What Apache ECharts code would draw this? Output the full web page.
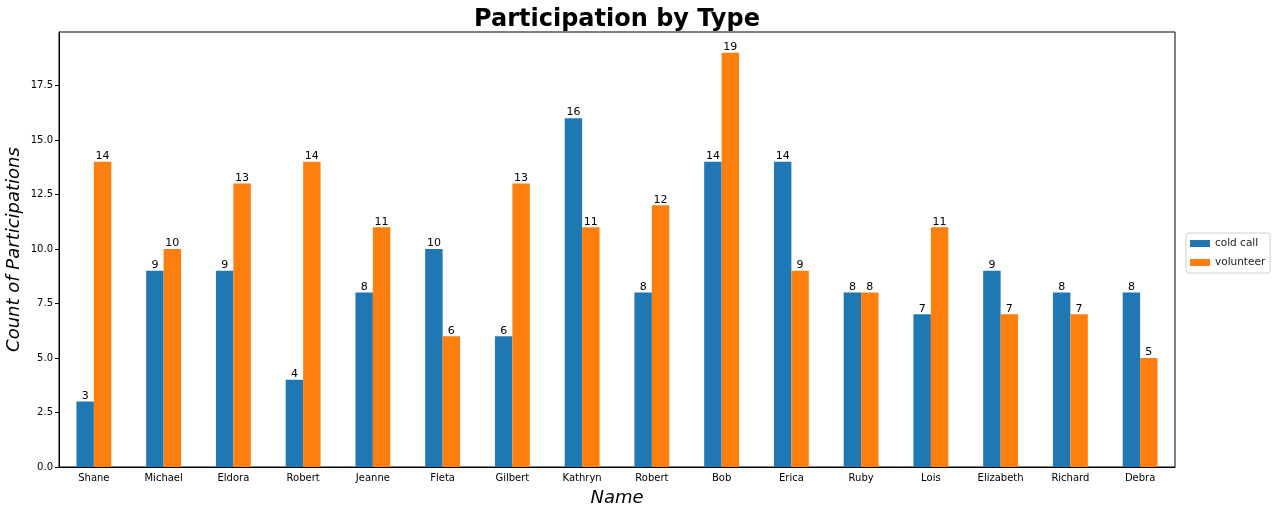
<!DOCTYPE html>
<html>
<head>
<meta charset="utf-8">
<script src="https://cdn.jsdelivr.net/npm/echarts@6/dist/echarts.min.js"></script>
<style>
  html, body { margin: 0; padding: 0; background: #fff; }
  #chart { width: 1276px; height: 513px; }
</style>
</head>
<body>
<div id="chart"></div>
<script>
const names = ["Shane", "Michael", "Eldora", "Robert", "Jeanne", "Fleta", "Gilbert", "Kathryn",
  "Robert", "Bob", "Erica", "Ruby", "Lois", "Elizabeth", "Richard", "Debra"];
const coldCall = [3, 9, 9, 4, 8, 10, 6, 16, 8, 14, 14, 8, 7, 9, 8, 8];
const volunteer = [14, 10, 13, 14, 11, 6, 13, 11, 12, 19, 9, 8, 11, 7, 7, 5];

const FONT = "DejaVu Sans";
const COLORS = { blue: "#1f77b4", orange: "#ff7f0e", text: "#000" };

const chart = echarts.init(document.getElementById("chart"));

function barSeries(name, data, color) {
  return {
    name,
    type: "bar",
    data,
    color,
    barGap: "0%",
    barCategoryGap: "50%",
    label: {
      show: true,
      position: "top",
      distance: 0,
      color: COLORS.text,
      fontFamily: FONT,
      fontSize: 11,
    },
  };
}

chart.setOption({
  animation: false,
  textStyle: { fontFamily: FONT },
  title: {
    text: "Participation by Type",
    left: 612,
    textAlign: "center",
    top: 3,
    textStyle: { fontFamily: FONT, fontSize: 24, fontWeight: "bold", color: COLORS.text },
  },
  legend: {
    orient: "vertical",
    left: 1186,
    top: 233,
    icon: "rect",
    itemWidth: 20,
    itemHeight: 7,
    itemGap: 8,
    padding: [5, 5, 5, 4],
    borderColor: "#d0d0d0",
    borderWidth: 1,
    borderRadius: 3,
    textStyle: { fontFamily: FONT, fontSize: 10.5, color: "#222" },
    data: ["cold call", "volunteer"],
  },
  grid: {
    left: 59,
    right: 101,
    top: 32,
    bottom: 46,
    outerBoundsMode: "none",
    containLabel: false,
    show: true,
    borderColor: "#000",
    borderWidth: 1,
  },
  xAxis: {
    type: "category",
    data: names,
    name: "Name",
    nameLocation: "middle",
    nameGap: 22,
    nameMoveOverlap: false,
    nameTextStyle: { fontFamily: FONT, fontSize: 18, fontStyle: "italic", color: COLORS.text },
    axisLine: { lineStyle: { color: "#000" } },
    axisTick: { alignWithLabel: true, length: 4, lineStyle: { color: "#000" } },
    axisLabel: { interval: 0, fontFamily: FONT, fontSize: 10, color: COLORS.text, margin: 6 },
  },
  yAxis: {
    type: "value",
    min: 0,
    max: 19.95,
    interval: 2.5,
    name: "Count of Participations",
    nameLocation: "middle",
    nameGap: 36,
    nameMoveOverlap: false,
    nameTextStyle: { fontFamily: FONT, fontSize: 18, fontStyle: "italic", color: COLORS.text },
    axisLine: { show: true, lineStyle: { color: "#000" } },
    axisTick: { show: true, length: 4, lineStyle: { color: "#000" } },
    splitLine: { show: false },
    axisLabel: {
      fontFamily: FONT,
      fontSize: 10,
      color: COLORS.text,
      margin: 6,
      showMaxLabel: false,
      formatter: (v) => v.toFixed(1),
    },
  },
  series: [
    barSeries("cold call", coldCall, COLORS.blue),
    barSeries("volunteer", volunteer, COLORS.orange),
  ],
});
</script>
</body>
</html>
